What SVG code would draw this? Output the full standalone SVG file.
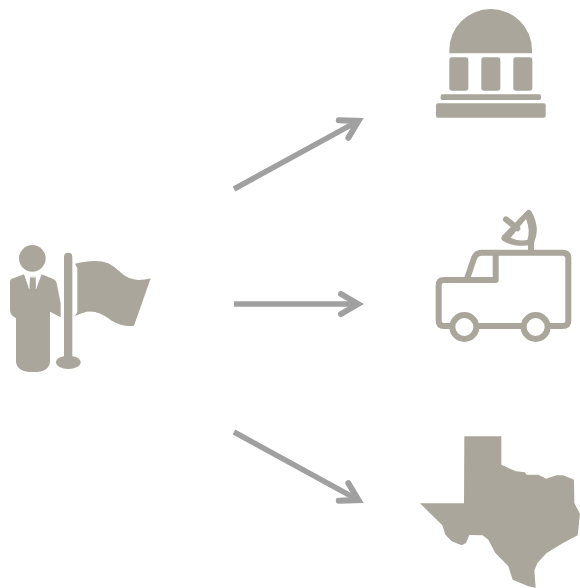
<svg xmlns="http://www.w3.org/2000/svg" width="580" height="588" viewBox="0 0 580 588">
<style>
.f{fill:#aaa69b}
.s{fill:none;stroke:#aaa69b;stroke-width:18;stroke-linecap:round;stroke-linejoin:round}
.c{fill:none;stroke:#a0a0a0;stroke-width:5.5}
.h{fill:none;stroke:#a0a0a0;stroke-width:6;stroke-linecap:round;stroke-linejoin:miter}
</style>
<defs>
<marker id="chev" markerUnits="userSpaceOnUse" markerWidth="40" markerHeight="40" refX="29" refY="20" orient="auto" viewBox="0 0 40 40"><path class="h" d="M12,10 L29,20 L12,30"/></marker>
<filter id="soft" x="-5%" y="-5%" width="110%" height="110%"><feGaussianBlur stdDeviation="0.4"/></filter>
</defs>
<g id="connectors" filter="url(#soft)">
<path class="c" d="M234,189 L358.5,120.9" marker-end="url(#chev)"/>
<path class="c" d="M234,304 L358,304" marker-end="url(#chev)"/>
<path class="c" d="M234,432 L358.5,500.1" marker-end="url(#chev)"/>
</g>
<g id="official" transform="translate(0,230) scale(0.33333)" filter="url(#soft)">
<circle class="f" cx="97" cy="85" r="40"/>
<path class="f" d="M30,155 Q30,148 40,145 L72,133 L88,178 L90,140 L107,140 L108,178 L125,133 L160,147 Q168,150 170,160 L182,220 L182,262 L150,245 L150,395 Q148,426 100,426 Q50,426 48,395 L48,265 Q30,255 30,240 Z"/>
<path d="M78,138 L88,176 M117,138 L108,176 M88,142 L107,142" fill="none" stroke="#fff" stroke-width="3" opacity=".6"/>
<rect class="f" x="192" y="68" width="25" height="320" rx="12"/>
<ellipse class="f" cx="205" cy="397" rx="37" ry="20"/>
<path class="f" d="M225,101 Q290,85 325,100 Q345,110 365,130 Q385,148 415,150 Q435,150 452,145 L402,287 Q370,292 335,272 Q295,240 260,245 Q240,250 225,258 L232,245 L232,115 Z"/>
</g>
<g id="capitol" transform="translate(420,0) scale(0.33333)" filter="url(#soft)">
<path class="f" d="M88,160 L88,150 A124,123 0 0 1 336,150 L336,160 Z"/>
<rect class="f" x="88" y="172" width="57" height="100" rx="7"/>
<rect class="f" x="184" y="172" width="57" height="100" rx="7"/>
<rect class="f" x="280" y="172" width="57" height="100" rx="7"/>
<rect class="f" x="62" y="283" width="301" height="17" rx="5"/>
<rect class="f" x="48" y="310" width="329" height="43" rx="6"/>
</g>
<g id="news-van" transform="translate(420,200) scale(0.33333)" filter="url(#soft)">
<path class="s" d="M95,378 H72 Q56,378 56,362 V256 Q56,240 72,240 H140 L162,175 Q168,158 185,158 H428 Q445,158 445,175 V362 Q445,378 428,378 H385 M175,378 H305 M227,160 V240 H140"/>
<circle class="s" cx="133" cy="381" r="36"/>
<circle class="s" cx="347" cy="381" r="36"/>
<path class="s" d="M333,155 V125"/>
<path class="f" d="M322,30 Q330,27 335,35 Q362,85 342,128 Q338,135 330,136 Q280,142 248,122 Q240,115 248,106 Z"/>
<path d="M272,113 Q295,125 322,120 Q332,90 318,57 Z" fill="#fff"/>
<path class="s" d="M258,58 L292,85"/>
</g>
<g id="texas" transform="translate(410,428) scale(0.33333)" filter="url(#soft)">
<path class="f" d="M163,25 L274,25 L274,110 L300,122 L318,130 L345,133 L350,140 L385,140 L408,152 L440,142 L460,142 L492,155 L493,225 L510,258 L503,322 L455,347 L410,375 L382,405 L373,428 L377,479 L355,475 L308,455 L295,415 L256,375 L235,335 L218,322 L178,321 L168,345 L155,352 L125,340 L106,320 L97,292 L30,226 L162,226 Z"/>
</g>
</svg>
